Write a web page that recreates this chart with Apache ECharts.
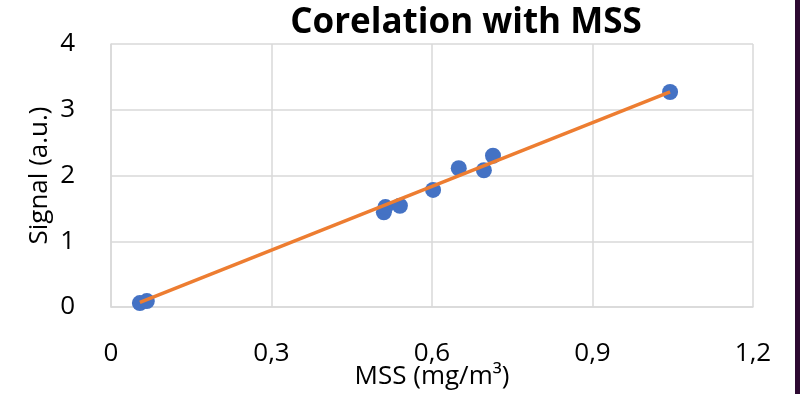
<!DOCTYPE html>
<html>
<head>
<meta charset="utf-8">
<script src="https://cdn.jsdelivr.net/npm/echarts@6/dist/echarts.min.js"></script>
<style>
  html, body { margin: 0; padding: 0; background: #fff; }
  #chart { width: 800px; height: 394px; }
</style>
</head>
<body>
<div id="chart"></div>
<script>
// MSS (mg/m3) vs signal (a.u.)
var mss    = [0.054, 0.067, 0.510, 0.513, 0.540, 0.602, 0.650, 0.697, 0.714, 1.045];
var signal = [0.06,  0.09,  1.44,  1.52,  1.54,  1.78,  2.11,  2.08,  2.30,  3.27];
// linear trend line end points
var trendX = [0.054, 1.045];
var trendY = [0.07, 3.27];

var xTicks = ['0', '0,3', '0,6', '0,9', '1,2'];

var chart = echarts.init(document.getElementById('chart'));

var points = mss.map(function (x, i) { return [x, signal[i]]; });
var trend = trendX.map(function (x, i) { return [x, trendY[i]]; });

chart.setOption({
    animation: false,
    title: {
        text: 'Corelation with MSS',
        left: 461,
        top: 1,
        textAlign: 'center',
        textStyle: {
            fontFamily: 'Open Sans',
            fontWeight: 'bold',
            fontSize: 35,
            color: '#000'
        }
    },
    grid: { left: 111, right: 47, top: 44, bottom: 87, outerBoundsMode: 'none' },
    xAxis: {
        type: 'value',
        min: 0,
        max: 1.2,
        interval: 0.3,
        name: 'MSS (mg/m\u00b3)',
        nameLocation: 'middle',
        nameGap: 57,
        nameMoveOverlap: false,
        nameTextStyle: { fontFamily: 'Open Sans', fontSize: 26, color: '#000' },
        axisLine: { show: true, lineStyle: { color: '#d9d9d9', width: 1.5 } },
        axisTick: { show: false },
        splitLine: { lineStyle: { color: '#d9d9d9', width: 1.5 } },
        axisLabel: {
            margin: 34,
            fontFamily: 'Open Sans',
            fontSize: 26,
            color: '#000',
            formatter: function (v) { return xTicks[Math.round(v / 0.3)]; }
        }
    },
    yAxis: {
        type: 'value',
        min: 0,
        max: 4,
        interval: 1,
        name: 'Signal (a.u.)',
        nameLocation: 'middle',
        nameGap: 58,
        nameMoveOverlap: false,
        nameTextStyle: { fontFamily: 'Open Sans', fontSize: 26, color: '#000' },
        axisLine: { show: true, lineStyle: { color: '#d9d9d9', width: 1.5 } },
        axisTick: { show: false },
        splitLine: { lineStyle: { color: '#d9d9d9', width: 1.5 } },
        axisLabel: {
            margin: 36,
            fontFamily: 'Open Sans',
            fontSize: 26,
            color: '#000'
        }
    },
    series: [
        {
            type: 'scatter',
            data: points,
            symbolSize: 16,
            itemStyle: { color: '#4472c4', opacity: 1 },
            z: 2
        },
        {
            type: 'line',
            data: trend,
            symbol: 'none',
            lineStyle: { color: '#ed7d31', width: 3.5 },
            z: 3
        }
    ],
    graphic: [
        {
            type: 'rect',
            shape: { x: 795, y: 0, width: 5, height: 394 },
            style: { fill: '#2e0a32' }
        }
    ]
});
</script>
</body>
</html>
